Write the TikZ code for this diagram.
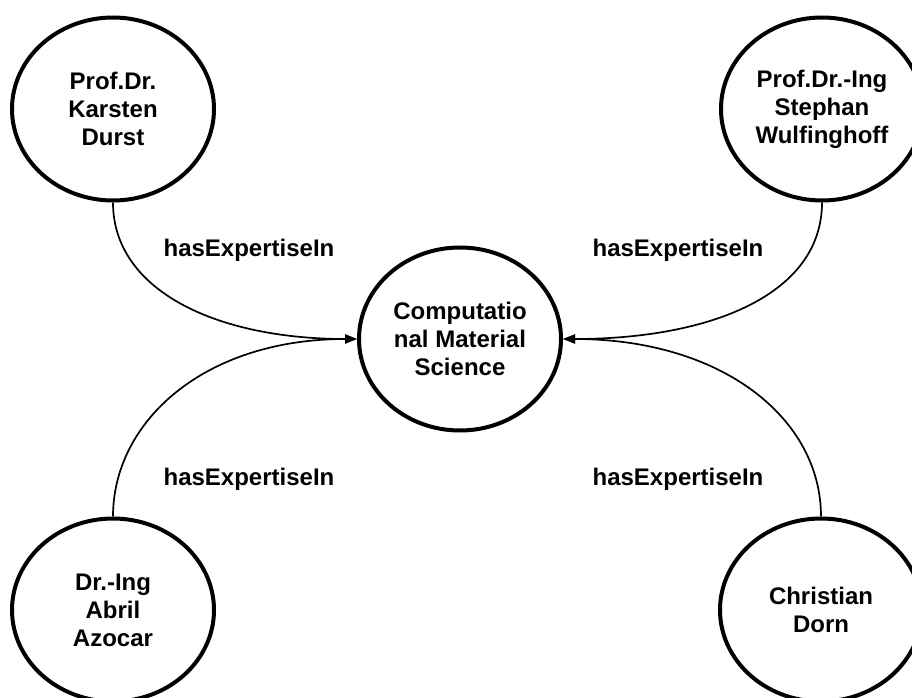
\documentclass[tikz,border=0pt]{standalone}
\usepackage{fontspec}
\setmainfont{Liberation Sans}
\usetikzlibrary{shapes.geometric,arrows.meta}

\begin{document}
\begin{tikzpicture}[x=1pt,y=1pt,
        person/.style={draw, ellipse, line width=4pt, minimum width=202pt, minimum height=183pt, inner sep=0pt, align=center, font=\fontsize{24}{28}\selectfont\bfseries},
        rel/.style={font=\fontsize{24}{28}\selectfont\bfseries},
        expertise/.style={line width=1.7pt, -{Triangle[length=12pt,width=9pt]}, out looseness=0.8, in looseness=1.3}]
                \useasboundingbox (0,0) rectangle (912,697);
                \node[person] (cms) at (460,358) {Computatio\\nal Material\\Science};
                \node[person] (durst) at (113,588) {Prof.Dr.\\Karsten\\Durst};
                \node[person] (wulf) at (822,588) {Prof.Dr.-Ing\\Stephan\\Wulfinghoff};
                \node[person] (azocar) at (113,87) {Dr.-Ing\\Abril\\Azocar};
                \node[person] (dorn) at (821,87) {Christian\\Dorn};
                \draw[expertise] (durst.south) to[out=-90,in=180] (cms.west);
                \draw[expertise] (wulf.south) to[out=-90,in=0] (cms.east);
                \draw[expertise] (azocar.north) to[out=90,in=180] (cms.west);
                \draw[expertise] (dorn.north) to[out=90,in=0] (cms.east);
                \node[rel] (lbldurst) at (249,447) {hasExpertiseIn};
                \node[rel] (lblwulf) at (678,447) {hasExpertiseIn};
                \node[rel] (lblazocar) at (249,218) {hasExpertiseIn};
                \node[rel] (lbldorn) at (678,218) {hasExpertiseIn};
\end{tikzpicture}
\end{document}
